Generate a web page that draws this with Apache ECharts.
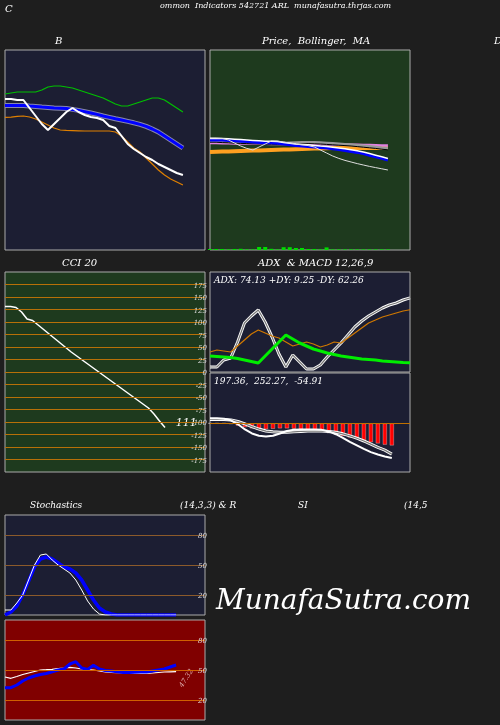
<!DOCTYPE html><html><head><meta charset="utf-8">
<script src="https://cdn.jsdelivr.net/npm/echarts@6/dist/echarts.min.js"></script>
<style>html,body{margin:0;background:#1e1e1e}#c{width:500px;height:725px}</style></head><body><div id="c"></div>
<script>
const bGreen=[78,78.5,79,79,79,79,80,81.5,82,82,81.5,81,80,79,78,77,76,74.5,73,72,72,73,74,75,76,76,75,73,71,69];
const bWhite=[75.5,75.5,75,75,71,67,63,60,63,66,69,71,69,67.5,66.5,66,65,62,61,57,53,50.5,48.5,46.5,45,43,41.5,40,38.5,37.5];
const bBlue=[72.2,72.2,72.3,72.3,72,71.8,71.5,71.3,71,70.9,70.8,70.3,69.8,69.2,68.5,67.8,67,66.3,65.6,65,64.3,63.6,62.8,61.8,60.5,59,57,55,53,51];
const bOrange=[66.3,66.4,66.8,67,66.5,65.5,64,62.5,61,60,59.8,59.7,59.6,59.5,59.5,59.5,59.5,59.5,59,57,54,51,49,46,43,40,37.5,35.5,34,32.5];
const pPink=[53.5,53.5,53.4,53.4,53.3,53.3,53.2,53.2,53.1,53.1,53,53,53,53,53,53,53,52.9,52.9,52.8,52.8,52.7,52.7,52.6,52.6,52.5,52.5,52.4,52.3,52.2];
const pGray=[54.5,54.5,54.3,54.2,54,53.9,53.8,53.7,53.6,53.5,53.5,53.4,53.4,53.5,53.6,53.7,53.8,53.7,53.6,53.4,53.2,53,52.8,52.6,52.3,52,51.7,51.4,51,50.7];
const pOrange=[49,49.1,49.2,49.3,49.4,49.5,49.6,49.7,49.8,49.9,50,50.1,50.2,50.3,50.4,50.5,50.6,50.7,50.8,50.9,51,51,51,51,51,51,51,51,51,51];
const pBlue=[55,55,55,54.8,54.6,54.4,54.2,54,53.8,53.6,53.6,53.4,53,52.6,52.2,52,51.8,51.5,51.2,51,50.6,50.2,49.8,49.3,48.8,48.2,47.4,46.6,45.8,45];
const pWhite=[56,56,55.8,55,53.5,52,50.8,50,51.5,53,54.5,54.5,54,53.5,53,52.6,52.2,51.5,50,48.5,47,45.8,44.8,44,43.2,42.5,41.8,41.2,40.6,40];
const pVol=[0.5,0.5,0.5,0.3,0.5,0.6,0.3,0.3,1.5,1.5,0.6,0.3,1.4,1.4,1,1,0.5,0.5,0.3,1.3,0.3,0.3,0.3,0.3,0.3,0.3,0.3,0.3,0.3,0.3];
const cci=[131,131,129,120,106,103,94,85,76,67,58,49,40,32,24,16,8,0,-8,-16,-24,-32,-40,-48,-56,-64,-72,-84,-98,-111];
const cciTicks=[-175,-150,-125,-100,-75,-50,-25,0,25,50,75,100,125,150,175];
const adx=[5,5,12,14,30,49,56,62,50,35,18,5,17,10,3,3,7,15,22,29,37,45,51,56,60,64,67,69,72,74.13];
const minusDI=[20,22,21,20,26,32,38,42,39,36,34,30,26,28,30,28,25,27,30,29,34,39,44,49,52,55,57,59,61,62.26];
const plusDI=[16,15.5,15,14.5,13.5,12,10.5,9,16,23,30,37,33,29,26,23,21,19,17.5,16,15,14,13,12.5,12,11,10.5,10,9.5,9.25];
const macd=[13,13,12,8,-2,-15,-25,-31,-33,-31,-25,-19,-16,-15,-15,-15,-16,-20,-27,-36,-46,-55,-64,-72,-78,-83,-87];
const signal=[10,10,10,9,5,-1,-8,-14,-19,-21,-22,-22,-21,-20,-19,-19,-19,-20,-22,-26,-31,-37,-44,-52,-60,-67,-77];
const hist=[1,1,1,-1,-5,-9,-12,-14,-14,-13,-12,-12,-13,-14,-16,-18,-21,-24,-27,-31,-35,-39,-43,-47,-50,-53,-55];
const stochK=[5,5,12,20,35,50,60,61,55,50,46,42,35,25,14,6,1,0,0,0,0,0,0,0,0,0,0,0,0,0];
const stochD=[0,3,9,20,34,48,56,58,56,52,48,46,42,35,25,15,7,3,1,0,0,0,0,0,0,0,0,0,0,0];
const rsiBlue=[32.3,32.3,35,39,42,44,45.5,46.5,48.3,50,51,56,58.3,52,50.5,54.7,51,49.5,49,48.3,47.6,47.6,47.8,48,48,49,50,51,53,55];
const rsiWhite=[43,41.7,43.5,45.5,47,48.5,50,50.3,50.7,51.5,52,52.7,52,51,50.5,50,49,48,47.7,47.3,47,46.8,46.7,46.6,46.6,47,47.5,48,48.2,48.3];
const srLevels=[20,50,80];

const P=a=>a.map((v,i)=>[i,v]);
const grids=[
 {left:5,top:50,width:200,height:200},
 {left:210,top:50,width:200,height:200},
 {left:5,top:272,width:200,height:200},
 {left:210,top:272,width:200,height:100},
 {left:210,top:373,width:200,height:99},
 {left:5,top:515,width:200,height:100},
 {left:5,top:620,width:200,height:100}];
const bgs=['#1c1e33','#1e3a1e','#1e3a1e','#1c1e33','#1c1e33','#1c1e33','#800000'];
const xmax=[32.6,32.6,36.25,29,28.6,33.9,33.9];
const ylims=[[0,100],[0,100],[-200,200],[0,100],[-122,127],[0,100],[0,100]];
const grid=grids.map((g,i)=>Object.assign({show:true,backgroundColor:bgs[i],borderColor:'#aaa',borderWidth:1},g));
const xAxis=grids.map((g,i)=>({type:'value',gridIndex:i,min:0,max:xmax[i],show:false}));
const yAxis=grids.map((g,i)=>({type:'value',gridIndex:i,min:ylims[i][0],max:ylims[i][1],show:false}));
const L=(gi,data,color,w,z)=>({type:'line',xAxisIndex:gi,yAxisIndex:gi,data:P(data),symbol:'none',smooth:false,lineStyle:{color,width:w},z:z||2,silent:true});
const HL=(gi,levels,color,labels)=>({type:'line',xAxisIndex:gi,yAxisIndex:gi,data:[],markLine:{silent:true,symbol:'none',lineStyle:{color,width:1,type:'solid'},label:labels?{show:true,position:'insideEndTop',distance:[-2,-5],color:'#ddd',fontSize:7,fontStyle:'italic',fontFamily:'DejaVu Serif',formatter:p=>p.value}:{show:false},data:levels.map(v=>({yAxis:v}))}});
const series=[
 L(0,bGreen,'#00c000',1.2),L(0,bOrange,'#e08000',1.2),L(0,bBlue,'#8888aa',5,1),L(0,bBlue,'#0000ff',3),L(0,bWhite,'#ffffff',2),
 {type:'bar',xAxisIndex:1,yAxisIndex:1,data:P(pVol),barWidth:4,itemStyle:{color:'#00dd00'},silent:true},
 L(1,pOrange,'#ffa020',4),L(1,pPink,'#e080e0',2.5),L(1,pGray,'#999999',3),L(1,pGray.map(v=>v-0.6),'#000000',1),L(1,pBlue,'#0000ff',3),L(1,pBlue.map(v=>v+0.8),'#ffffff',1.5),L(1,pWhite,'#dddddd',1),
 HL(2,cciTicks,'#b87008',true),L(2,cci,'#ffffff',1.5),
 L(3,adx,'#ffffff',3),L(3,adx,'#777777',1.2),L(3,minusDI,'#d07800',1.2),L(3,plusDI,'#00ee00',3),
 HL(4,[0],'#c07000',false),
 {type:'bar',xAxisIndex:4,yAxisIndex:4,data:P(hist),barWidth:4,itemStyle:{color:'#ff0000',borderColor:'#fff',borderWidth:0.3},silent:true},
 L(4,signal,'#ffffff',3),L(4,signal,'#777',1.2),L(4,macd,'#ffffff',2),
 HL(5,srLevels,'#8b5a2b',true),L(5,stochD,'#0000ff',3.5),L(5,stochK,'#ffffff',1),
 HL(6,srLevels,'#d06000',true),L(6,rsiWhite,'#ffffff',1.2),L(6,rsiBlue,'#0000ff',3)
];
const T=(x,y,t,s,o)=>Object.assign({type:'text',left:x,top:y,style:{text:t,fill:'#fff',font:'italic '+(s||10)+'px "DejaVu Serif"'}},o||{});
const graphic=[
 T(5,4,'C',10),T(160,2,'ommon  Indicators 542721 ARL  munafasutra.thrjas.com',8),
 T(55,36,'B',10),T(262,36,'Price,  Bollinger,  MA',10),T(494,36,'D',10),
 T(62,258,'CCI 20',10),T(258,258,'ADX  & MACD 12,26,9',10),
 T(214,276,'ADX: 74.13 +DY: 9.25 -DY: 62.26',9),T(214,377,'197.36,  252.27,  -54.91',9),
 T(172,418,'-111',11),
 T(30,501,'Stochastics',9),T(180,501,'(14,3,3) & R',9),T(298,501,'SI',9),T(404,501,'(14,5',9),
 {type:'text',left:178,top:668,rotation:1.0,style:{text:'47.32',fill:'#ddaaaa',font:'italic 7px "DejaVu Serif"'}},
 {type:'text',left:216,top:588,style:{text:'MunafaSutra.com',fill:'#fff',font:'italic 28px "DejaVu Serif"'}}
];
const ch=echarts.init(document.getElementById('c'));
ch.setOption({backgroundColor:'#1e1e1e',animation:false,grid,xAxis,yAxis,series,graphic});
</script></body></html>
